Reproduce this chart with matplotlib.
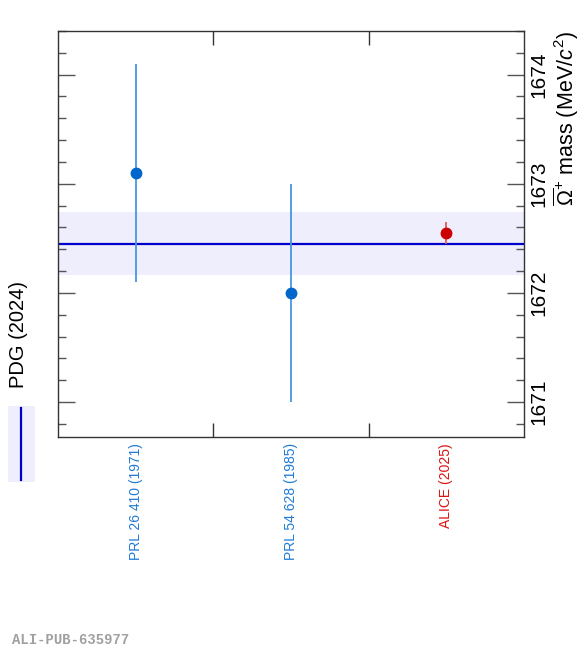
import matplotlib
matplotlib.use("Agg")
import matplotlib.pyplot as plt
from matplotlib.patches import Rectangle
from matplotlib.ticker import MultipleLocator

plt.rcParams['font.family'] = ['Liberation Sans', 'DejaVu Sans']
plt.rcParams['mathtext.fontset'] = 'custom'
plt.rcParams['mathtext.rm'] = 'Liberation Sans'
plt.rcParams['mathtext.it'] = 'Liberation Sans:italic'

# medidas de masa (MeV/c^2)
etiquetas = ["PRL 26 410 (1971)", "PRL 54 628 (1985)", "ALICE (2025)"]
masas = [1673.1, 1672.0, 1672.55]
errores = [1.0, 1.0, 0.1]
colores_punto = ["#0066cc", "#0066cc", "#cc0000"]
colores_error = ["#4796e0", "#4796e0", "#e05a5a"]
colores_texto = ["#1f7ad6", "#1f7ad6", "#dd1111"]

pdg_masa = 1672.45
pdg_error = 0.29
pdg_texto = "PDG (2024)"

fig = plt.figure(figsize=(5.83, 6.5), dpi=100)
ax = fig.add_axes([0.0995, 0.3277, 0.7993, 0.6246])

# banda y linea del PDG
ax.axhspan(pdg_masa - pdg_error, pdg_masa + pdg_error, color="#eeeefc", lw=0, zorder=0)
ax.axhline(pdg_masa, color="#0000cc", lw=1.6, zorder=1)

for i in range(len(masas)):
    x = i + 0.5
    ax.errorbar([x], [masas[i]], yerr=[errores[i]], fmt="none",
                ecolor=colores_error[i], elinewidth=1.3, capsize=0, zorder=2)
    ax.plot([x], [masas[i]], "o", color=colores_punto[i], ms=7.5, zorder=3)
    ax.text(x, -0.015, etiquetas[i], transform=ax.get_xaxis_transform(),
            rotation=90, ha="center", va="top", color=colores_texto[i], fontsize=10)

ax.set_xlim(0, 3)
ax.set_ylim(1670.68, 1674.40)

ax.set_xticks([1, 2])
ax.set_xticklabels([])
ax.tick_params(axis="x", which="major", direction="in", length=10, top=True, bottom=True,
               width=1, color="#333333")

ax.yaxis.set_major_locator(MultipleLocator(1))
ax.yaxis.set_minor_locator(MultipleLocator(0.2))
ax.tick_params(axis="y", which="major", direction="in", length=12, left=True, right=True,
               labelleft=False, labelright=True, labelrotation=90, labelsize=15,
               pad=4, width=1, color="#555555")
ax.tick_params(axis="y", which="minor", direction="in", length=6, left=True, right=True,
               width=1, color="#555555")
for lab in ax.get_yticklabels():
    lab.set_verticalalignment("center")

for s in ax.spines.values():
    s.set_color("#333333")
    s.set_linewidth(1)

ax.text(1.09, 1.0, r"$\overline{\Omega}^{+}$ mass (MeV/$c^{2}$)", transform=ax.transAxes,
        rotation=90, ha="center", va="top", fontsize=15.5)

# leyenda a la izquierda
fig.patches.append(Rectangle((8 / 583, 1 - 482 / 650), 27 / 583, 76 / 650,
                             transform=fig.transFigure, facecolor="#eeeefc", edgecolor="none"))
fig.add_artist(plt.Line2D([20.5 / 583, 20.5 / 583], [1 - 480 / 650, 1 - 408 / 650],
                          transform=fig.transFigure, color="#0000cc", lw=1.6))
fig.text(19 / 583, 1 - 335 / 650, pdg_texto, rotation=90, ha="center", va="center", fontsize=14.5)

fig.text(12 / 583, 1 - 640 / 650, "ALI-PUB-635977", ha="left", va="center",
         family="Liberation Mono", weight="bold", fontsize=10, color="#a0a0a0")

fig.savefig("out.png", dpi=100)
